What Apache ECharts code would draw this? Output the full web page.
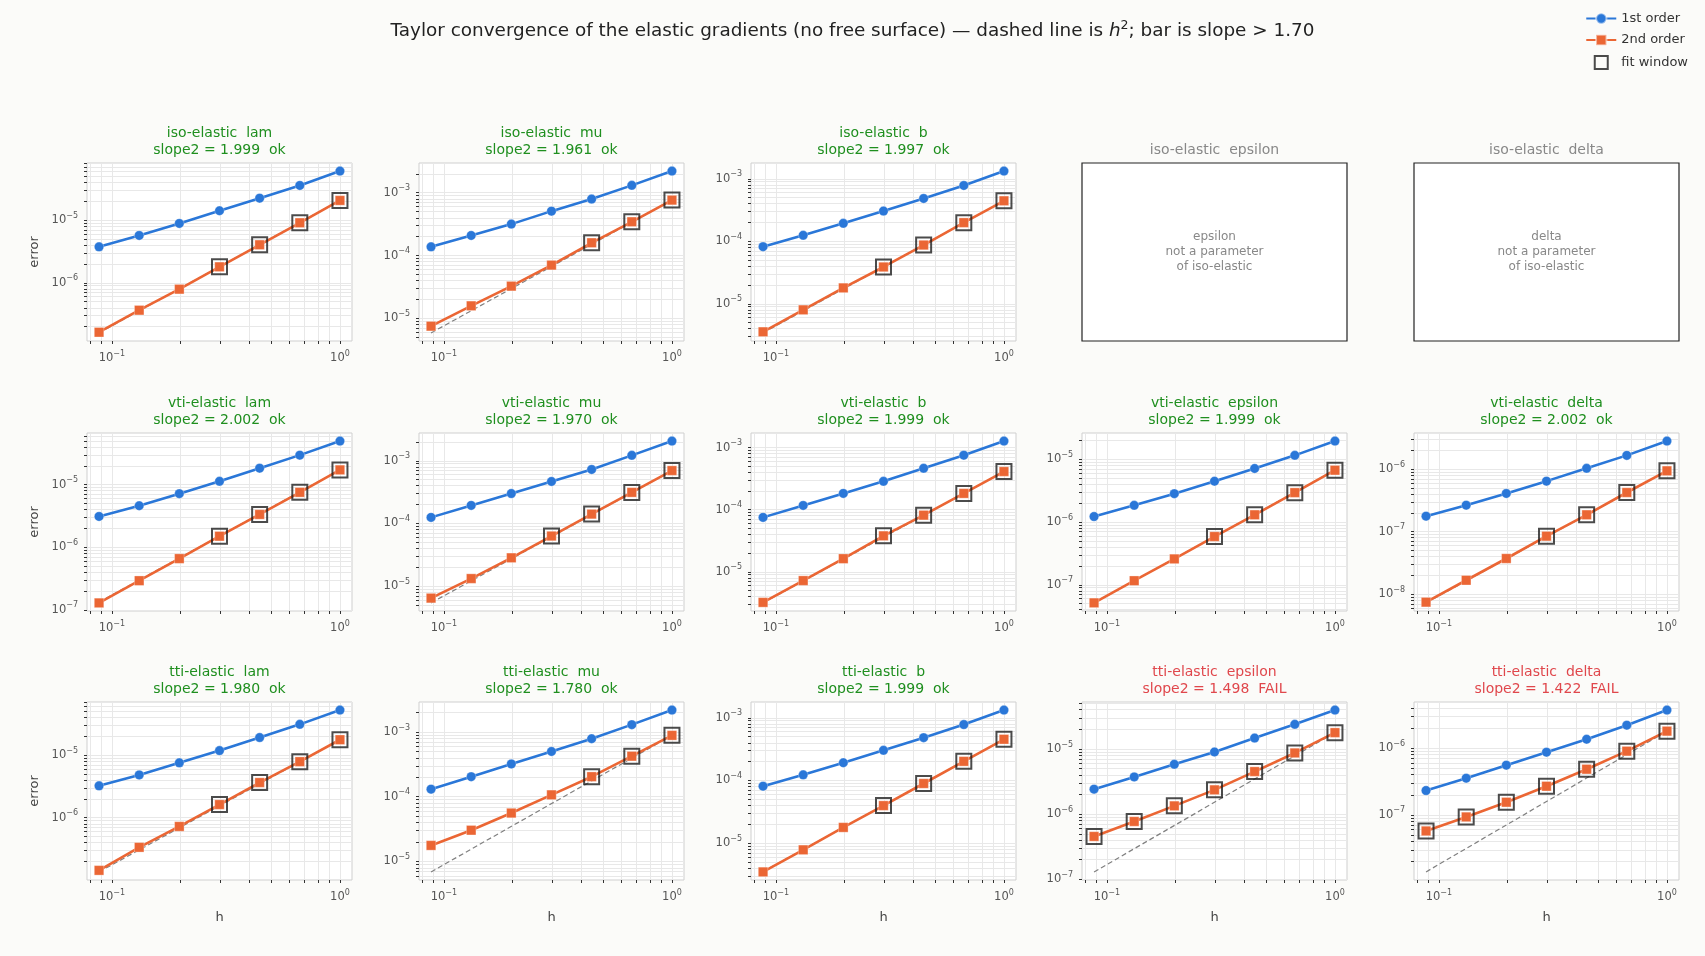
<!DOCTYPE html>
<html><head><meta charset="utf-8">
<script src="https://cdn.jsdelivr.net/npm/echarts@6/dist/echarts.min.js"></script>
<style>html,body{margin:0;padding:0;background:#fbfbf9;} #c{width:1705px;height:956px;}</style>
</head><body><div id="c"></div>
<script>
// ---------- data ----------
const H = [0.0878, 0.1317, 0.1975, 0.2963, 0.4444, 0.6667, 1.0];
const xTickValues = [0.08, 0.09, 0.1, 0.2, 0.3, 0.4, 0.5, 0.6, 0.7, 0.8, 0.9, 1];
const xLabelValues = [0.1, 1];
const yDecades = [1e-10, 1e-9, 1e-8, 1e-7, 1e-6, 1e-5, 1e-4, 1e-3, 1e-2, 1e-1];
const yMinorMultipliers = [1, 2, 3, 4, 5, 6, 7, 8, 9];

const models = ['iso-elastic', 'vti-elastic', 'tti-elastic'];
const params = ['lam', 'mu', 'b', 'epsilon', 'delta'];
const slopeThreshold = 1.70;

// iso-elastic
const isoLam1 = [3.75e-6, 5.69e-6, 8.85e-6, 1.41e-5, 2.24e-5, 3.57e-5, 6.05e-5];
const isoLam2 = [1.63e-7, 3.66e-7, 7.92e-7, 1.80e-6, 4.04e-6, 9.06e-6, 2.06e-5];
const isoLamRef = [1.59e-7, 2.06e-5];
const isoMu1 = [1.38e-4, 2.09e-4, 3.17e-4, 5.10e-4, 7.93e-4, 1.31e-3, 2.21e-3];
const isoMu2 = [7.55e-6, 1.59e-5, 3.27e-5, 7.06e-5, 1.60e-4, 3.45e-4, 7.64e-4];
const isoMuRef = [5.9e-6, 7.64e-4];
const isoB1 = [8.22e-5, 1.25e-4, 1.94e-4, 3.05e-4, 4.85e-4, 7.83e-4, 1.33e-3];
const isoB2 = [3.57e-6, 8.02e-6, 1.80e-5, 3.89e-5, 8.73e-5, 1.99e-4, 4.45e-4];
const isoBRef = [3.43e-6, 4.45e-4];
// vti-elastic
const vtiLam1 = [3.10e-6, 4.60e-6, 7.18e-6, 1.13e-5, 1.83e-5, 2.96e-5, 4.96e-5];
const vtiLam2 = [1.29e-7, 2.92e-7, 6.58e-7, 1.50e-6, 3.34e-6, 7.53e-6, 1.72e-5];
const vtiLamRef = [1.33e-7, 1.72e-5];
const vtiMu1 = [1.25e-4, 1.94e-4, 3.00e-4, 4.67e-4, 7.26e-4, 1.22e-3, 2.06e-3];
const vtiMu2 = [6.44e-6, 1.32e-5, 2.83e-5, 6.30e-5, 1.41e-4, 3.13e-4, 6.97e-4];
const vtiMuRef = [5.4e-6, 6.97e-4];
const vtiB1 = [7.53e-5, 1.17e-4, 1.83e-4, 2.86e-4, 4.64e-4, 7.53e-4, 1.27e-3];
const vtiB2 = [3.23e-6, 7.24e-6, 1.63e-5, 3.80e-5, 8.17e-5, 1.83e-4, 4.11e-4];
const vtiBRef = [3.17e-6, 4.11e-4];
const vtiEps1 = [1.22e-6, 1.84e-6, 2.82e-6, 4.45e-6, 7.10e-6, 1.15e-5, 1.94e-5];
const vtiEps2 = [5.15e-8, 1.16e-7, 2.58e-7, 5.86e-7, 1.30e-6, 2.93e-6, 6.67e-6];
const vtiEpsRef = [5.14e-8, 6.67e-6];
const vtiDelta1 = [1.77e-7, 2.65e-7, 4.08e-7, 6.43e-7, 1.03e-6, 1.66e-6, 2.81e-6];
const vtiDelta2 = [7.45e-9, 1.67e-8, 3.72e-8, 8.47e-8, 1.86e-7, 4.23e-7, 9.40e-7];
const vtiDeltaRef = [7.25e-9, 9.40e-7];
// tti-elastic
const ttiLam1 = [3.23e-6, 4.83e-6, 7.54e-6, 1.18e-5, 1.91e-5, 3.10e-5, 5.24e-5];
const ttiLam2 = [1.44e-7, 3.36e-7, 7.24e-7, 1.62e-6, 3.64e-6, 7.85e-6, 1.76e-5];
const ttiLamRef = [1.36e-7, 1.76e-5];
const ttiMu1 = [1.31e-4, 2.04e-4, 3.21e-4, 5.00e-4, 7.87e-4, 1.30e-3, 2.18e-3];
const ttiMu2 = [1.77e-5, 3.04e-5, 5.60e-5, 1.07e-4, 2.04e-4, 4.23e-4, 8.87e-4];
const ttiMuRef = [6.9e-6, 8.87e-4];
const ttiB1 = [8.11e-5, 1.23e-4, 1.92e-4, 3.03e-4, 4.83e-4, 7.82e-4, 1.33e-3];
const ttiB2 = [3.47e-6, 7.81e-6, 1.78e-5, 3.97e-5, 8.95e-5, 2.02e-4, 4.55e-4];
const ttiBRef = [3.51e-6, 4.55e-4];
const ttiEps1 = [2.42e-6, 3.73e-6, 5.82e-6, 8.99e-6, 1.47e-5, 2.39e-5, 3.95e-5];
const ttiEps2 = [4.55e-7, 7.72e-7, 1.34e-6, 2.36e-6, 4.50e-6, 8.69e-6, 1.78e-5];
const ttiEpsRef = [1.30e-7, 1.78e-5];
const ttiDelta1 = [2.32e-7, 3.55e-7, 5.56e-7, 8.71e-7, 1.36e-6, 2.21e-6, 3.72e-6];
const ttiDelta2 = [5.75e-8, 9.33e-8, 1.55e-7, 2.69e-7, 4.84e-7, 9.02e-7, 1.80e-6];
const ttiDeltaRef = [1.4e-8, 1.80e-6];

// slopes (fit of 2nd order) and number of points in fit window, per model row / param column
const slopesIso = [1.999, 1.961, 1.997, null, null];
const slopesVti = [2.002, 1.970, 1.999, 1.999, 2.002];
const slopesTti = [1.980, 1.780, 1.999, 1.498, 1.422];
const fitIso = [4, 3, 4, 0, 0];
const fitVti = [4, 4, 4, 4, 4];
const fitTti = [4, 3, 4, 7, 7];

const panelData = [
  [[isoLam1, isoLam2, isoLamRef], [isoMu1, isoMu2, isoMuRef], [isoB1, isoB2, isoBRef], null, null],
  [[vtiLam1, vtiLam2, vtiLamRef], [vtiMu1, vtiMu2, vtiMuRef], [vtiB1, vtiB2, vtiBRef], [vtiEps1, vtiEps2, vtiEpsRef], [vtiDelta1, vtiDelta2, vtiDeltaRef]],
  [[ttiLam1, ttiLam2, ttiLamRef], [ttiMu1, ttiMu2, ttiMuRef], [ttiB1, ttiB2, ttiBRef], [ttiEps1, ttiEps2, ttiEpsRef], [ttiDelta1, ttiDelta2, ttiDeltaRef]]
];
const slopes = [slopesIso, slopesVti, slopesTti];
const fits = [fitIso, fitVti, fitTti];

// ---------- layout / style ----------
const FONT = 'DejaVu Sans';
const colLeft = [87, 419, 751, 1082, 1414];
const rowTop = [163, 433, 702];
const PW = 265, PH = 178;
const BLUE = '#2a77d8', ORANGE = '#eb6634';
const OKC = '#1f8f1f', FAILC = '#e0474c', GREYT = '#888888';

const yTickValues = [];
yDecades.forEach(d => yMinorMultipliers.forEach(m => yTickValues.push(m * d)));

function supFormatter(v) {
  const e = Math.round(Math.log10(v));
  return '{b|10}{s|' + (e < 0 ? '\u2212' + (-e) : String(e)) + '}';
}
const labelRich = {
  b: { fontSize: 11.5, fontFamily: FONT, color: '#555' },
  s: { fontSize: 8, fontFamily: FONT, color: '#555', padding: [0, 0, 9, 0] }
};
function logExtent(vals) {
  const l = vals.map(v => Math.log10(v));
  const lo = Math.min(...l), hi = Math.max(...l), sp = hi - lo;
  return [Math.pow(10, lo - 0.05 * sp), Math.pow(10, hi + 0.05 * sp)];
}
const xExt = logExtent(H);

const grids = [], xAxes = [], yAxes = [], series = [], titles = [], graphics = [];

titles.push({
  text: '{n|Taylor convergence of the elastic gradients (no free surface) \u2014 dashed line is }{i|h}{s|2}{n|; bar is slope > 1.70}',
  left: 'center', top: 19, padding: 0,
  textStyle: {
    fontWeight: 'normal',
    rich: {
      n: { fontSize: 18.4, fontFamily: FONT, fontWeight: 'normal', color: '#222' },
      i: { fontSize: 18.4, fontFamily: FONT, fontWeight: 'normal', fontStyle: 'italic', color: '#222' },
      s: { fontSize: 12.5, fontFamily: FONT, fontWeight: 'normal', color: '#222', padding: [0, 0, 11, 0] }
    }
  }
});

for (let r = 0; r < 3; r++) {
  for (let c = 0; c < 5; c++) {
    const left = colLeft[c], top = rowTop[r];
    const cx = left + PW / 2;
    const d = panelData[r][c];
    if (!d) {
      titles.push({
        text: models[r] + '  ' + params[c], left: cx, top: top - 21, textAlign: 'center', padding: 0,
        textStyle: { fontSize: 14, fontFamily: FONT, fontWeight: 'normal', color: GREYT, lineHeight: 17 }
      });
      graphics.push({
        type: 'rect', shape: { x: left, y: top, width: PW, height: PH },
        style: { fill: '#ffffff', stroke: '#222', lineWidth: 1.2 }, z: 0
      });
      graphics.push({
        type: 'text', x: cx, y: top + PH / 2,
        style: { text: params[c] + '\nnot a parameter\nof ' + models[r], fill: GREYT, fontSize: 12, fontFamily: FONT,
                 align: 'center', verticalAlign: 'middle', lineHeight: 15 }, z: 1
      });
      continue;
    }
    const [first, second, ref] = d;
    const slope = slopes[r][c];
    const ok = slope > slopeThreshold;
    titles.push({
      text: models[r] + '  ' + params[c] + '\nslope2 = ' + slope.toFixed(3) + '  ' + (ok ? 'ok' : 'FAIL'),
      left: cx, top: top - 38, textAlign: 'center', padding: 0,
      textStyle: { fontSize: 14, fontFamily: FONT, fontWeight: 'normal', color: ok ? OKC : FAILC, lineHeight: 17 }
    });
    const gi = grids.length;
    grids.push({ left: left, top: top, width: PW, height: PH, show: true, backgroundColor: '#ffffff',
                 borderColor: '#cfcfcf', borderWidth: 1, containLabel: false, outerBoundsMode: 'none' });
    const yExt = logExtent(first.concat(second, ref));
    xAxes.push({
      type: 'log', gridIndex: gi, min: xExt[0], max: xExt[1],
      axisLine: { show: false },
      axisTick: { show: true, length: 3, customValues: xTickValues, lineStyle: { color: '#333', width: 1 } },
      splitLine: { show: true, customValues: xTickValues, lineStyle: { color: '#e8e8e8', width: 1 } },
      minorTick: { show: false }, minorSplitLine: { show: false },
      axisLabel: { customValues: xLabelValues, formatter: supFormatter, rich: labelRich, margin: 9 },
      name: r === 2 ? 'h' : '', nameLocation: 'middle', nameGap: 31,
      nameTextStyle: { fontSize: 13, fontFamily: FONT, color: '#444' }
    });
    yAxes.push({
      type: 'log', gridIndex: gi, min: yExt[0], max: yExt[1],
      axisLine: { show: false },
      axisTick: { show: true, length: 3, customValues: yTickValues, lineStyle: { color: '#333', width: 1 } },
      splitLine: { show: true, customValues: yTickValues, lineStyle: { color: '#e8e8e8', width: 1 } },
      minorTick: { show: false }, minorSplitLine: { show: false },
      axisLabel: { customValues: yDecades, formatter: supFormatter, rich: labelRich, margin: 9 },
      name: c === 0 ? 'error' : '', nameLocation: 'middle', nameGap: 46,
      nameTextStyle: { fontSize: 13, fontFamily: FONT, color: '#444' }
    });
    const ai = gi;
    series.push({
      name: 'h2 reference', type: 'line', xAxisIndex: ai, yAxisIndex: ai, silent: true, z: 1,
      data: [[H[0], ref[0]], [H[H.length - 1], ref[1]]],
      showSymbol: false, symbol: 'none',
      lineStyle: { color: '#808080', width: 1.2, type: [5, 3] }
    });
    series.push({
      name: '1st order', type: 'line', xAxisIndex: ai, yAxisIndex: ai, silent: true, z: 3,
      data: H.map((h, i) => [h, first[i]]),
      symbol: 'circle', symbolSize: 9.5, showAllSymbol: true,
      lineStyle: { color: BLUE, width: 2.6 },
      itemStyle: { color: BLUE, borderColor: 'rgba(255,255,255,0.5)', borderWidth: 0.6 }
    });
    series.push({
      name: '2nd order', type: 'line', xAxisIndex: ai, yAxisIndex: ai, silent: true, z: 3,
      data: H.map((h, i) => [h, second[i]]),
      symbol: 'rect', symbolSize: 9.5, showAllSymbol: true,
      lineStyle: { color: ORANGE, width: 2.6 },
      itemStyle: { color: ORANGE, borderColor: 'rgba(255,255,255,0.5)', borderWidth: 0.6 }
    });
    const n = fits[r][c];
    series.push({
      name: 'fit window', type: 'scatter', xAxisIndex: ai, yAxisIndex: ai, silent: true, z: 4,
      data: H.slice(H.length - n).map((h, i) => [h, second[H.length - n + i]]),
      symbol: 'rect', symbolSize: 15,
      itemStyle: { color: 'rgba(0,0,0,0)', borderColor: '#1e1e1e', borderWidth: 2 }
    });
  }
}

const option = {
  backgroundColor: '#fbfbf9',
  animation: false,
  textStyle: { fontFamily: FONT },
  title: titles,
  legend: {
    orient: 'vertical', right: 12, top: 7, itemWidth: 30, itemHeight: 13, itemGap: 8.5,
    selectedMode: false,
    textStyle: { fontSize: 13, fontFamily: FONT, color: '#333' },
    data: [
      { name: '1st order' },
      { name: '2nd order' },
      { name: 'fit window', icon: 'path://M0 0H10V10H0Z',
        itemStyle: { color: 'rgba(0,0,0,0)', borderColor: '#1e1e1e', borderWidth: 2 } }
    ]
  },
  grid: grids, xAxis: xAxes, yAxis: yAxes, series: series,
  graphic: graphics
};
const chart = echarts.init(document.getElementById('c'), null, { renderer: 'canvas' });
chart.setOption(option);
</script>
</body></html>
